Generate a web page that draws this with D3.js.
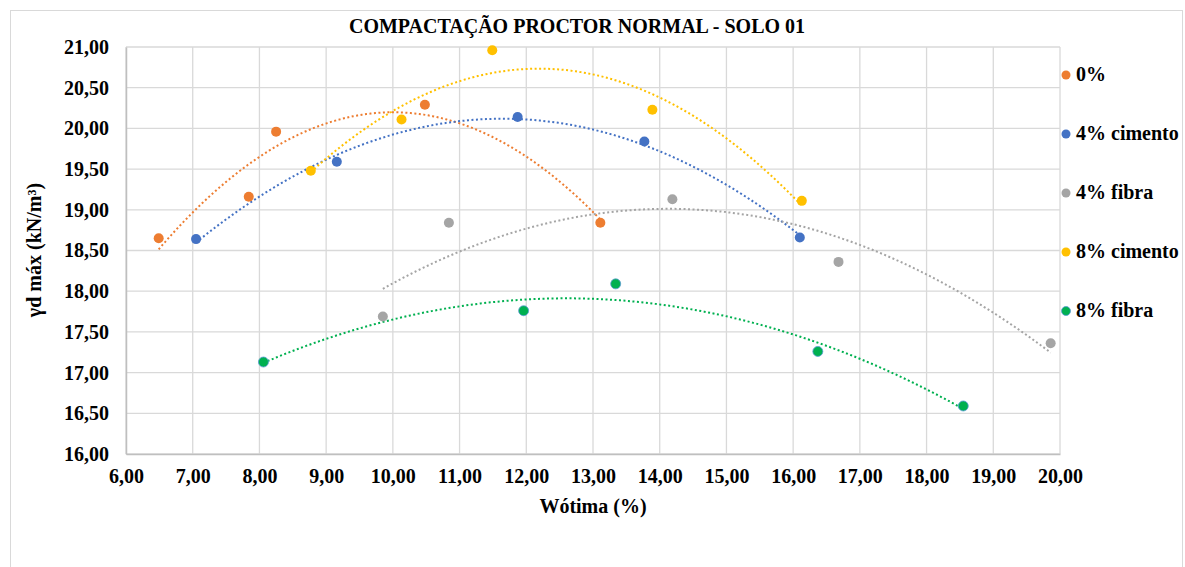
<!DOCTYPE html>
<html>
<head>
<meta charset="utf-8">
<script src="https://cdn.jsdelivr.net/npm/d3@7"></script>
<style>
  body { margin: 0; background: #fff; }
  text { font-family: "Liberation Serif", "Times New Roman", serif; font-weight: bold; fill: #000; }
</style>
</head>
<body>
<svg id="chart"></svg>
<script>
var w = 1185;
var h = 567;

// series names and colours
var seriesNames = ['0%', '4% cimento', '4% fibra', '8% cimento', '8% fibra'];
var seriesColors = ['#ED7D31', '#4472C4', '#A5A5A5', '#FFC000', '#00B050'];

// humidity (x) and dry unit weight (y)
var x0 = [6.49, 7.84, 8.25, 10.48, 13.11];
var y0 = [18.65, 19.16, 19.96, 20.29, 18.84];
var x4c = [7.05, 9.16, 11.87, 13.77, 16.10];
var y4c = [18.64, 19.59, 20.14, 19.84, 18.66];
var x4f = [9.85, 10.84, 14.19, 16.68, 19.86];
var y4f = [17.69, 18.84, 19.13, 18.36, 17.36];
var x8c = [8.77, 10.13, 11.49, 13.89, 16.13];
var y8c = [19.48, 20.11, 20.96, 20.23, 19.11];
var x8f = [8.06, 11.96, 13.34, 16.37, 18.55];
var y8f = [17.13, 17.76, 18.09, 17.26, 16.59];

var xTicks = [6, 7, 8, 9, 10, 11, 12, 13, 14, 15, 16, 17, 18, 19, 20];
var yTicks = [16, 16.5, 17, 17.5, 18, 18.5, 19, 19.5, 20, 20.5, 21];

var allX = [x0, x4c, x4f, x8c, x8f];
var allY = [y0, y4c, y4f, y8c, y8f];

var svg = d3.select('#chart').attr('width', w).attr('height', h);

// chart area border
svg.append('rect')
  .attr('x', 10.5).attr('y', 10.5)
  .attr('width', 1172).attr('height', 570)
  .attr('fill', '#fff').attr('stroke', '#d9d9d9');

var pLeft = 126, pRight = 1060, pTop = 47, pBottom = 454;
var fs = 20;

var x = d3.scaleLinear().domain([6, 20]).range([pLeft, pRight]);
var y = d3.scaleLinear().domain([16, 21]).range([pBottom, pTop]);

var fmt = function (d) { return d3.format('.2f')(d).replace('.', ','); };

// grid
svg.append('g').selectAll('line').data(xTicks).enter().append('line')
  .attr('x1', function (d) { return x(d); }).attr('x2', function (d) { return x(d); })
  .attr('y1', pTop).attr('y2', pBottom)
  .attr('stroke', '#d9d9d9').attr('stroke-width', 1.3);
svg.append('g').selectAll('line').data(yTicks).enter().append('line')
  .attr('x1', pLeft).attr('x2', pRight)
  .attr('y1', function (d) { return y(d); }).attr('y2', function (d) { return y(d); })
  .attr('stroke', '#d9d9d9').attr('stroke-width', 1.3);

// axes
var xAxis = svg.append('g').attr('transform', 'translate(0,' + pBottom + ')')
  .call(d3.axisBottom(x).tickValues(xTicks).tickFormat(fmt).tickSize(0).tickPadding(15));
xAxis.select('.domain').attr('stroke', '#bfbfbf').attr('stroke-width', 1.5);
xAxis.selectAll('text').attr('font-size', fs).style('font-family', '"Liberation Serif", serif');

var yAxis = svg.append('g').attr('transform', 'translate(' + pLeft + ',0)')
  .call(d3.axisLeft(y).tickValues(yTicks).tickFormat(fmt).tickSize(0).tickPadding(17));
yAxis.select('.domain').attr('stroke', '#bfbfbf').attr('stroke-width', 1.5);
yAxis.selectAll('text').attr('font-size', fs).style('font-family', '"Liberation Serif", serif');

// quadratic least squares trendline
function polyFit(xs, ys) {
  var n = xs.length, s = [0, 0, 0, 0, 0], t = [0, 0, 0];
  for (var i = 0; i < n; i++) {
    for (var k = 0; k < 5; k++) s[k] += Math.pow(xs[i], k);
    for (var k2 = 0; k2 < 3; k2++) t[k2] += ys[i] * Math.pow(xs[i], k2);
  }
  var m = [[s[0], s[1], s[2], t[0]], [s[1], s[2], s[3], t[1]], [s[2], s[3], s[4], t[2]]];
  for (var c = 0; c < 3; c++) {
    for (var r = c + 1; r < 3; r++) {
      var f = m[r][c] / m[c][c];
      for (var j = c; j < 4; j++) m[r][j] -= f * m[c][j];
    }
  }
  var b = [0, 0, 0];
  for (var r2 = 2; r2 >= 0; r2--) {
    var v = m[r2][3];
    for (var j2 = r2 + 1; j2 < 3; j2++) v -= m[r2][j2] * b[j2];
    b[r2] = v / m[r2][r2];
  }
  return b;
}

var line = d3.line().x(function (d) { return x(d[0]); }).y(function (d) { return y(d[1]); });

allX.forEach(function (xs, si) {
  var b = polyFit(xs, allY[si]);
  var lo = d3.min(xs), hi = d3.max(xs);
  var pts = d3.range(0, 101).map(function (i) {
    var xv = lo + (hi - lo) * i / 100;
    return [xv, b[0] + b[1] * xv + b[2] * xv * xv];
  });
  svg.append('path').datum(pts)
    .attr('d', line)
    .attr('fill', 'none')
    .attr('stroke', seriesColors[si])
    .attr('stroke-width', 2)
    .attr('stroke-dasharray', '2,2.5');
});

allX.forEach(function (xs, si) {
  svg.append('g').selectAll('circle').data(xs).enter().append('circle')
    .attr('cx', function (d) { return x(d); })
    .attr('cy', function (d, i) { return y(allY[si][i]); })
    .attr('r', 5)
    .attr('fill', seriesColors[si])
    .attr('stroke', si === 4 ? '#5b9bd5' : 'none')
    .attr('stroke-width', 0.8);
});

// title
svg.append('text').attr('x', 577).attr('y', 33).attr('text-anchor', 'middle')
  .attr('font-size', fs).text('COMPACTAÇÃO PROCTOR NORMAL - SOLO 01');

// axis titles
svg.append('text').attr('x', 593).attr('y', 513).attr('text-anchor', 'middle')
  .attr('font-size', fs).text('Wótima (%)');
svg.append('text')
  .attr('transform', 'translate(41,250) rotate(-90)')
  .attr('text-anchor', 'middle')
  .attr('font-size', fs).text('γd máx (kN/m³)');

// legend
var legendY = [75, 134, 193, 252, 311];
var leg = svg.append('g').selectAll('g').data(seriesNames).enter().append('g')
  .attr('transform', function (d, i) { return 'translate(1066,' + legendY[i] + ')'; });
leg.append('circle').attr('r', 4.5)
  .attr('fill', function (d, i) { return seriesColors[i]; })
  .attr('stroke', function (d, i) { return i === 4 ? '#5b9bd5' : 'none'; })
  .attr('stroke-width', 0.8);
leg.append('text').attr('x', 10).attr('y', 6).attr('font-size', fs)
  .text(function (d) { return d; });
</script>
</body>
</html>
